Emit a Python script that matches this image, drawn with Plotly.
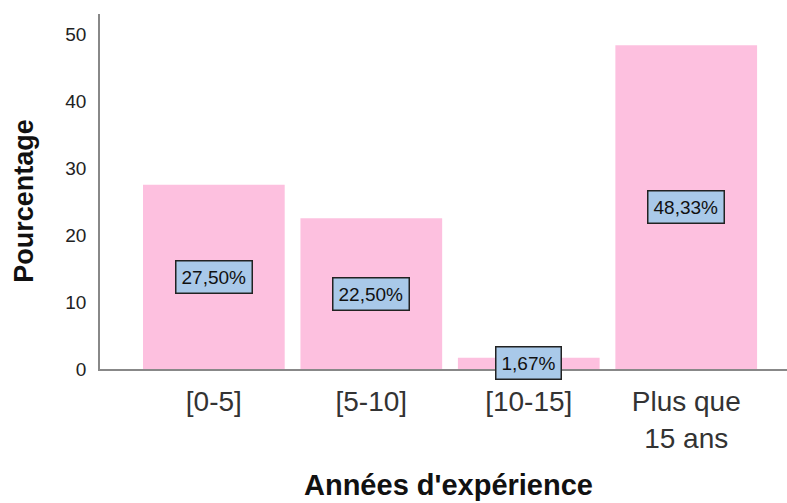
import plotly.graph_objects as go

categories = ["[0-5]", "[5-10]", "[10-15]", "Plus que<br>15 ans"]
values = [27.50, 22.50, 1.67, 48.33]
labels = ["27,50%", "22,50%", "1,67%", "48,33%"]
y_ticks = [0, 10, 20, 30, 40, 50]

FONT = "Liberation Sans, Arial, sans-serif"

fig = go.Figure()
fig.add_trace(go.Bar(
    x=list(range(len(categories))), y=values,
    marker=dict(color="#fdc0df", line=dict(width=0)),
    width=0.9,
))

for i, (v, lab) in enumerate(zip(values, labels)):
    fig.add_annotation(
        x=i, y=v / 2, text=lab, showarrow=False,
        font=dict(family=FONT, size=19, color="#111"),
        bgcolor="#a9c9e9", bordercolor="#222", borderwidth=1.5, borderpad=5,
    )

fig.add_annotation(
    xref="paper", yref="paper", x=0.507, y=-0.326, text="<b>Années d'expérience</b>",
    showarrow=False, font=dict(family=FONT, size=29, color="#111"), yanchor="middle",
)
fig.add_annotation(
    xref="paper", yref="paper", x=-0.111, y=0.473, text="<b>Pourcentage</b>", textangle=-90,
    showarrow=False, font=dict(family=FONT, size=27, color="#111"), xanchor="center",
)

fig.update_layout(
    width=787, height=503,
    margin=dict(l=100, r=0, t=14, b=134),
    plot_bgcolor="white", paper_bgcolor="white",
    showlegend=False,
    xaxis=dict(
        range=[-0.723, 3.64], tickvals=list(range(len(categories))), ticktext=categories,
        showline=True, linecolor="#888", linewidth=1.5, showgrid=False, zeroline=False,
        ticks="", ticklabelstandoff=7, tickfont=dict(family=FONT, size=28, color="#333"),
    ),
    yaxis=dict(
        range=[0, 53], tickvals=y_ticks,
        showline=True, linecolor="#888", linewidth=1.5, showgrid=False, zeroline=False,
        ticks="", ticklabelstandoff=8, tickfont=dict(family=FONT, size=19, color="#222"),
    ),
)

fig.write_html("out.html")
